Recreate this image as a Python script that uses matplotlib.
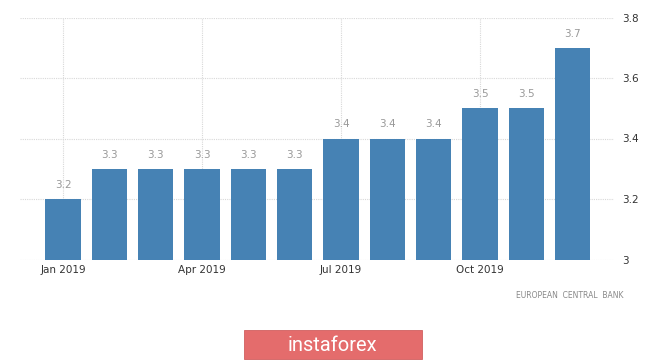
import matplotlib
matplotlib.use("Agg")
import matplotlib.pyplot as plt
from matplotlib.patches import Rectangle

months = ["Jan 2019", "Feb 2019", "Mar 2019", "Apr 2019", "May 2019", "Jun 2019",
          "Jul 2019", "Aug 2019", "Sep 2019", "Oct 2019", "Nov 2019", "Dec 2019"]
values = [3.2, 3.3, 3.3, 3.3, 3.3, 3.3, 3.4, 3.4, 3.4, 3.5, 3.5, 3.7]
xtick_idx = [0, 3, 6, 9]
yticks = [3.0, 3.2, 3.4, 3.6, 3.8]
ytick_labels = ["3", "3.2", "3.4", "3.6", "3.8"]
source = "EUROPEAN  CENTRAL  BANK"
logo = "instaforex"

fig = plt.figure(figsize=(6.65, 3.61), dpi=100)
ax = fig.add_axes([20/665, 1-259.5/361, (614-20)/665, (259.5-17.5)/361])

x = list(range(len(values)))
ax.bar(x, [v - 3.0 for v in values], bottom=3.0, width=0.76, color="#4682b4",
       edgecolor="none", zorder=3)
for xi, v in zip(x, values):
    ax.text(xi, v + 0.03, f"{v:.1f}", ha="center", va="bottom", fontsize=7.5,
            color="#999999", zorder=4)

ax.set_xlim(-0.93, 11.89)
ax.set_ylim(3.0, 3.8)
ax.set_xticks(xtick_idx)
ax.set_xticklabels([months[i] for i in xtick_idx], fontsize=7.5, color="#333333")
ax.set_yticks(yticks)
ax.set_yticklabels(ytick_labels, fontsize=7.5, color="#333333")
ax.yaxis.tick_right()
ax.tick_params(axis="both", length=0)
ax.tick_params(axis="y", pad=6)
ax.tick_params(axis="x", pad=4)
for s in ax.spines.values():
    s.set_visible(False)
ax.grid(True, color="#d8d8d8", linestyle=(0, (1, 1)), linewidth=0.8, zorder=0)

fig.text(623/665, 1-296/361, source, ha="right", va="center", fontsize=5.5,
         color="#888888")

fig.patches.append(Rectangle((244/665, 1-359/361), (422-244)/665, (359-330)/361,
                             transform=fig.transFigure, facecolor="#e46c6c",
                             edgecolor="#d06060", linewidth=0.6))
fig.text(332/665, 1-351/361, logo, ha="center", va="baseline", fontsize=14.5,
         family="Roboto", fontweight="normal", color="white")

fig.savefig("out.png", dpi=100)
